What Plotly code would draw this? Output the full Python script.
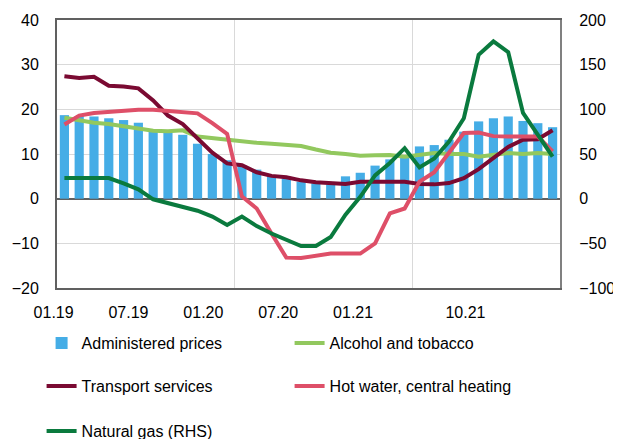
import plotly.graph_objects as go

months = ["01.19", "02.19", "03.19", "04.19", "05.19", "06.19", "07.19", "08.19", "09.19",
          "10.19", "11.19", "12.19", "01.20", "02.20", "03.20", "04.20", "05.20", "06.20",
          "07.20", "08.20", "09.20", "10.20", "11.20", "12.20", "01.21", "02.21", "03.21",
          "04.21", "05.21", "06.21", "07.21", "08.21", "09.21", "10.21"]

administered = [18.7, 18.5, 18.4, 18.0, 17.6, 17.0, 15.0, 14.8, 14.3, 12.3, 10.0, 8.6,
                7.5, 6.5, 5.2, 4.5, 3.8, 3.4, 3.2, 5.0, 5.8, 7.4, 8.8, 9.4,
                11.7, 12.0, 13.2, 15.0, 17.3, 18.0, 18.4, 17.4, 16.9, 16.0]

alcohol = [18.1, 17.5, 17.0, 16.7, 16.2, 15.7, 15.2, 15.1, 15.3, 13.9, 13.5, 13.2,
           12.9, 12.5, 12.3, 12.0, 11.8, 11.0, 10.3, 10.0, 9.6, 9.7, 9.8, 9.4,
           9.8, 10.2, 10.0, 10.0, 9.4, 9.8, 10.2, 10.0, 10.2, 10.0]

transport = [27.4, 27.0, 27.3, 25.3, 25.1, 24.7, 22.0, 18.6, 16.7, 13.4, 10.3, 7.9,
             7.5, 5.9, 5.1, 4.8, 4.1, 3.7, 3.6, 3.3, 3.8, 3.8, 3.7, 3.8,
             3.3, 3.2, 3.5, 4.6, 6.6, 9.2, 11.6, 13.2, 13.3, 15.3]

hotwater = [16.6, 18.6, 19.2, 19.4, 19.8, 19.9, 19.9, 19.7, 19.5, 19.1, 16.9, 14.5,
            0.5, -2.2, -7.8, -13.2, -13.3, -12.8, -12.3, -12.3, -12.3, -10.0, -3.3, -2.2,
            3.8, 5.9, 10.3, 14.7, 14.8, 14.0, 13.9, 13.9, 13.9, 10.6]

gas = [23, 23, 23, 23, 17, 10.5, -0.7, -5, -9, -13.5, -20, -29.5,
       -20, -30.7, -39, -45.6, -53, -53, -43, -18, 2, 26, 40, 56.5,
       35, 45, 64, 90, 161, 176, 164, 96, 71.5, 47]

tick_months = ["01.19", "07.19", "01.20", "07.20", "01.21", "10.21"]
year_breaks = ["12.19", "12.20"]

idx = list(range(len(months)))
tick_pos = [months.index(m) for m in tick_months]
grid_pos = [months.index(m) + 0.5 for m in year_breaks]

FONT = "Liberation Sans, Arial, sans-serif"
OFF = 8  # page body margin in the browser
W, H = 621 - OFF, 439 - OFF
plot_left, plot_right = 57.4 - OFF, 560.0 - OFF
plot_top, plot_bottom = 20 - OFF, 288 - OFF
ML, MR, MT, MB = plot_left, W - plot_right, plot_top, H - plot_bottom
PW = W - ML - MR
PH = H - MT - MB

# label axis (overlaying): label pixel = 54 + 12.47 * month_index (page coords)
lab_target0, labstep = 54.0 - OFF, 12.47
p0 = lab_target0 + 6
x2range = [(plot_left - p0) / labstep, (plot_right - p0) / labstep]
lab_shift = int(round(lab_target0 - p0))

fig = go.Figure()
fig.add_trace(go.Bar(x=idx, y=administered, name="Administered prices",
                     marker=dict(color="#45ADE6", line=dict(width=0)), width=0.62,
                     legend="legend"))
fig.add_trace(go.Scatter(x=idx, y=alcohol, name="Alcohol and tobacco", mode="lines",
                         line=dict(color="#92C85E", width=4), legend="legend"))
fig.add_trace(go.Scatter(x=idx, y=transport, name="Transport services", mode="lines",
                         line=dict(color="#7A0A32", width=4), legend="legend2"))
fig.add_trace(go.Scatter(x=idx, y=hotwater, name="Hot water, central heating", mode="lines",
                         line=dict(color="#DE4F68", width=4), legend="legend2"))
fig.add_trace(go.Scatter(x=idx, y=gas, name="Natural gas (RHS)", mode="lines",
                         line=dict(color="#0A7A3E", width=4), yaxis="y2", legend="legend3"))
# empty trace that carries the tick-label axis
fig.add_trace(go.Scatter(x=[], y=[], xaxis="x2", yaxis="y", showlegend=False, hoverinfo="skip"))

legend_common = dict(orientation="h", xanchor="left", yanchor="top", bgcolor="rgba(0,0,0,0)",
                     font=dict(family=FONT, size=16, color="#000000"),
                     entrywidth=203, entrywidthmode="pixels", borderwidth=0)

def ly(center_page_px):
    top = center_page_px - OFF - 17.9
    return 1 - (top - MT) / PH

lx = (42 - OFF - ML) / PW

fig.update_layout(
    width=W, height=H,
    margin=dict(l=ML, r=MR, t=MT, b=MB, autoexpand=False),
    paper_bgcolor="white", plot_bgcolor="white",
    font=dict(family=FONT, size=16, color="#000000"),
    xaxis=dict(range=[-0.5, len(months) - 0.5], tickmode="array",
               tickvals=grid_pos, showticklabels=False, showgrid=True,
               gridcolor="#D9D9D9", gridwidth=1, ticks="", zeroline=False,
               showline=True, linecolor="#606060", linewidth=2, mirror=True),
    xaxis2=dict(overlaying="x", range=x2range, anchor="y", side="bottom",
                tickmode="array", tickvals=tick_pos, ticktext=tick_months,
                showgrid=False, zeroline=False, showline=False, ticks="",
                ticklabelstandoff=13, ticklabelshift=lab_shift,
                tickfont=dict(family=FONT, size=16, color="#000000")),
    yaxis=dict(range=[-20, 40], dtick=10, tick0=0, showgrid=True, gridcolor="#D9D9D9",
               gridwidth=1, zeroline=True, zerolinecolor="#606060", zerolinewidth=2,
               showline=True, linecolor="#606060", linewidth=2, ticks="",
               ticklabelstandoff=13, tickfont=dict(family=FONT, size=16, color="#000000")),
    yaxis2=dict(range=[-100, 200], dtick=50, tick0=0, overlaying="y", side="right",
                anchor="x", showgrid=False, zeroline=False, showline=True,
                linecolor="#808080", linewidth=2, ticks="",
                ticklabelstandoff=14,
                tickfont=dict(family=FONT, size=16, color="#000000")),
    legend=dict(x=lx, y=ly(344), **legend_common),
    legend2=dict(x=lx, y=ly(387), **legend_common),
    legend3=dict(x=lx, y=ly(432), **legend_common),
    showlegend=True,
)

fig.write_html("out.html")
